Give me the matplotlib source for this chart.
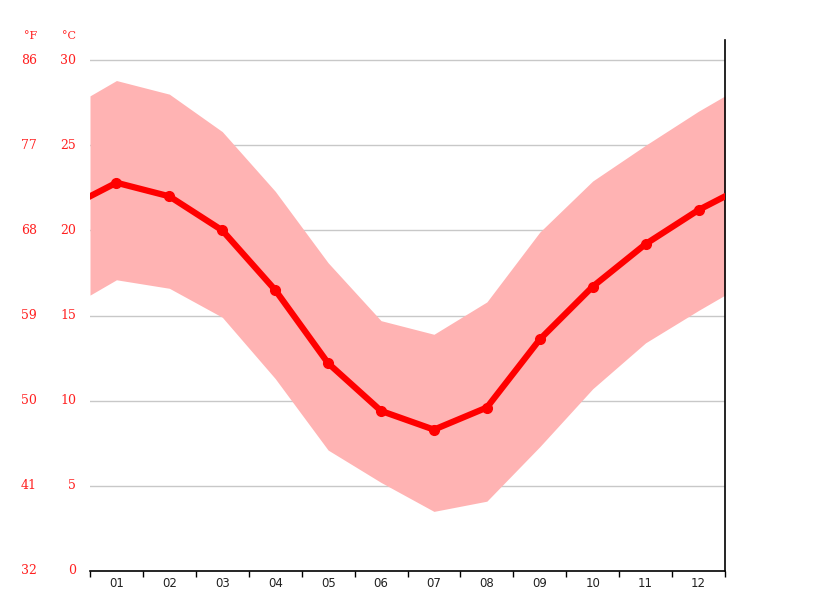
import matplotlib
matplotlib.use("Agg")
import matplotlib.pyplot as plt
import numpy as np

months = ["01", "02", "03", "04", "05", "06", "07", "08", "09", "10", "11", "12"]
mean_c = [22.8, 22.0, 20.0, 16.5, 12.2, 9.4, 8.3, 9.6, 13.6, 16.7, 19.2, 21.2]
max_c = [28.8, 28.0, 25.8, 22.3, 18.1, 14.7, 13.9, 15.8, 19.9, 22.9, 25.0, 27.0]
min_c = [17.1, 16.6, 14.9, 11.3, 7.1, 5.2, 3.5, 4.1, 7.3, 10.7, 13.4, 15.3]
c_ticks = [0, 5, 10, 15, 20, 25, 30]
f_ticks = [32, 41, 50, 59, 68, 77, 86]

W, H = 815, 611
fig = plt.figure(figsize=(W / 100, H / 100), dpi=100)
ax = fig.add_axes([90 / W, 1 - 571 / H, (725 - 90) / W, (571 - 40) / H])

n = len(months)
xc = np.arange(n) + 0.5

def wrap(vals):
    edge = (vals[0] + vals[-1]) / 2
    return np.concatenate([[0], xc, [n]]), np.concatenate([[edge], vals, [edge]])

xx, hi = wrap(np.array(max_c))
_, lo = wrap(np.array(min_c))
_, mm = wrap(np.array(mean_c))

for t in c_ticks[1:]:
    ax.axhline(t, color="#c8c8c8", lw=1, zorder=0)

ax.fill_between(xx, lo, hi, color="#ffb3b3", lw=0, zorder=1)
ax.plot(xx, mm, color="#ff0000", lw=4.5, zorder=3, solid_joinstyle="miter")
ax.plot(xc, mean_c, "o", color="#ff0000", ms=7, zorder=4)

ax.set_xlim(0, n)
ax.set_ylim(0, (571 - 40) / 17.03)

for s in ["left", "top"]:
    ax.spines[s].set_visible(False)
ax.spines["bottom"].set_color("black")
ax.spines["right"].set_color("black")
ax.spines["bottom"].set_linewidth(1.2)
ax.spines["right"].set_linewidth(1.2)

ax.set_xticks(np.arange(n + 1))
ax.set_xticklabels([""] * (n + 1))
ax.tick_params(axis="x", direction="out", length=4, width=1, color="black")
ax.set_xticks(xc, minor=True)
ax.set_xticklabels(months, minor=True, fontsize=8.5, color="#222222", family="DejaVu Sans")
ax.tick_params(axis="x", which="minor", length=0, pad=4)
ax.set_yticks([])

for c, f in zip(c_ticks, f_ticks):
    y = ax.transData.transform((0, c))[1]
    fig.text(76 / W, y / H, str(c), ha="right", va="center", color="#ff2020", fontsize=9, family="DejaVu Serif")
    fig.text(37 / W, y / H, str(f), ha="right", va="center", color="#ff2020", fontsize=9, family="DejaVu Serif")

fig.text(76 / W, 1 - 36 / H, "°C", ha="right", va="center", color="#ff2020", fontsize=8, family="DejaVu Serif")
fig.text(37 / W, 1 - 36 / H, "°F", ha="right", va="center", color="#ff2020", fontsize=8, family="DejaVu Serif")

fig.savefig("out.png", dpi=100, facecolor="white")
